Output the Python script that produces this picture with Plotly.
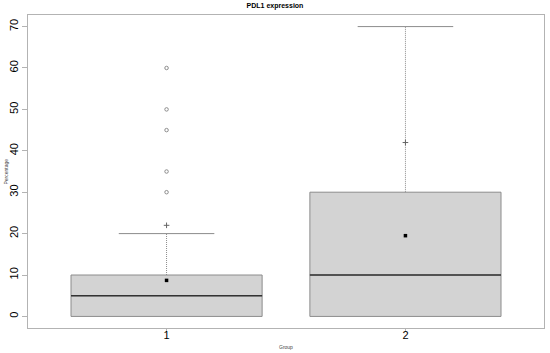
"""PDL1 expression boxplot by group (R-style base graphics look)."""

import plotly.graph_objects as go

GROUPS = [1, 2]
Q1 = [0, 0]
MEDIAN = [5, 10]
Q3 = [10, 30]
UPPER_WHISKER = [20, 70]
MEANS = [8.7, 19.5]

OUTLIERS_1 = [30, 35, 45, 50, 60]
CROSS_POINTS = {1: [22], 2: [42]}

Y_TICKS = [0, 10, 20, 30, 40, 50, 60, 70]

BOX_W = 0.8
CAP_W = 0.4
FRAME = "#b3b3b3"
FONT = "Liberation Sans, Arial, sans-serif"

fig = go.Figure()

fig.add_trace(go.Box(
    x=GROUPS, q1=Q1, median=MEDIAN, q3=Q3,
    lowerfence=Q1, upperfence=Q3,
    width=BOX_W, whiskerwidth=0,
    fillcolor="#d3d3d3", line=dict(color="#8c8c8c", width=1),
    boxpoints=False, hoverinfo="skip",
))

for g, md, q3, uw in zip(GROUPS, MEDIAN, Q3, UPPER_WHISKER):
    # median
    fig.add_trace(go.Scatter(
        x=[g - BOX_W / 2, g + BOX_W / 2], y=[md, md], mode="lines",
        line=dict(color="#333333", width=1.6), hoverinfo="skip",
    ))
    # whisker (dotted)
    fig.add_trace(go.Scatter(
        x=[g, g], y=[q3, uw], mode="lines",
        line=dict(color="#8c8c8c", width=1, dash="1px,1px"), hoverinfo="skip",
    ))
    # cap
    fig.add_trace(go.Scatter(
        x=[g - CAP_W / 2, g + CAP_W / 2], y=[uw, uw], mode="lines",
        line=dict(color="#8c8c8c", width=1), hoverinfo="skip",
    ))

fig.add_trace(go.Scatter(
    x=[1] * len(OUTLIERS_1), y=OUTLIERS_1, mode="markers",
    marker=dict(symbol="circle-open", size=3.5, color="#8c8c8c", line=dict(width=1)),
    hoverinfo="skip",
))

for g, vals in CROSS_POINTS.items():
    fig.add_trace(go.Scatter(
        x=[g] * len(vals), y=vals, mode="markers",
        marker=dict(symbol="cross-thin-open", size=4, color="#666666",
                    line=dict(width=1, color="#666666")),
        hoverinfo="skip",
    ))

fig.add_trace(go.Scatter(
    x=GROUPS, y=MEANS, mode="markers",
    marker=dict(symbol="square", size=3.5, color="black"),
    hoverinfo="skip",
))

fig.update_layout(
    width=550, height=353,
    margin=dict(l=28, r=6, t=15, b=25),
    plot_bgcolor="white", paper_bgcolor="white",
    showlegend=False,
    font=dict(family=FONT, color="black"),
    title=dict(text="<b>PDL1 expression</b>", x=0.5, xanchor="center",
               y=0.992, yanchor="top", font=dict(size=7)),
    annotations=[
        dict(text="Group", xref="paper", yref="paper", x=0.5, y=0,
             yshift=-14, xanchor="center", yanchor="top",
             showarrow=False, font=dict(size=5, color="#444444")),
        dict(text="Percentage", xref="paper", yref="paper", x=0, y=0.5,
             xshift=-23, xanchor="center", yanchor="middle", textangle=-90,
             showarrow=False, font=dict(size=5, color="#444444")),
    ],
)

fig.update_xaxes(
    range=[0.42, 2.58], tickvals=GROUPS, ticktext=[str(g) for g in GROUPS],
    ticks="outside", ticklen=3, tickcolor=FRAME, tickfont=dict(size=11),
    ticklabelstandoff=-6,
    showline=True, mirror=True, linecolor=FRAME, linewidth=1,
    showgrid=False, zeroline=False, automargin=False,
)
fig.update_yaxes(
    range=[-2.8, 72.8], tickvals=Y_TICKS, tickangle=-90,
    ticks="outside", ticklen=5, tickcolor=FRAME, tickfont=dict(size=11),
    showline=True, mirror=True, linecolor=FRAME, linewidth=1,
    showgrid=False, zeroline=False, automargin=False,
)

fig.write_html(
    "out.html",
    config={"displayModeBar": False},
    post_script="document.body.style.margin='0';",
)
